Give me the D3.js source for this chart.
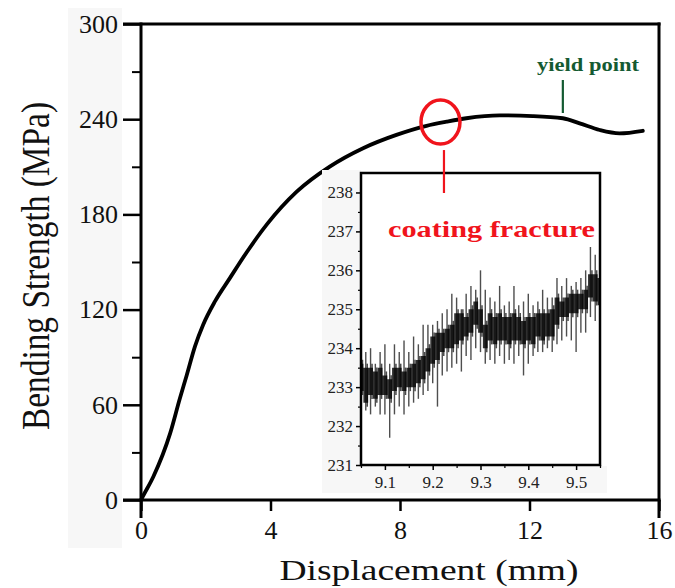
<!DOCTYPE html>
<html><head><meta charset="utf-8">
<script src="https://cdn.jsdelivr.net/npm/d3@7"></script>
<style>
html,body{margin:0;padding:0;background:#fff;}
text{font-family:"Liberation Serif","Times New Roman",serif;}
</style></head>
<body><svg id="chart" width="675" height="588"></svg>
<script>
// ---------- DATA ----------
const mainX = [0, 0.05, 0.38, 0.9, 1.2, 1.41, 1.67, 1.92, 2.28, 2.75, 3.26, 3.9, 4.81, 5.83, 6.86, 7.89, 8.82, 9.44, 10.05, 11.08, 12.1, 13.03, 13.55, 14.17, 14.78, 15.5];
const mainY = [0, 2, 14.7, 42, 64, 78.5, 97, 110.5, 125, 140, 156, 174, 194.3, 210.1, 221.7, 230.1, 235.8, 238.4, 240.6, 242.4, 242.0, 240.6, 237.4, 233.2, 231.1, 232.7];
const mainXTicks = [0, 4, 8, 12, 16];
const mainYTicks = [0, 60, 120, 180, 240, 300];
const mainYMinor = [30, 90, 150, 210, 270];

const insetX = [9.05,9.06,9.07,9.08,9.09,9.10,9.11,9.12,9.13,9.14,9.15,9.16,9.17,9.18,9.19,9.20,9.21,9.22,9.23,9.24,9.25,9.26,9.27,9.28,9.29,9.30,9.31,9.32,9.33,9.34,9.35,9.36,9.37,9.38,9.39,9.40,9.41,9.42,9.43,9.44,9.45,9.46,9.47,9.48,9.49,9.50,9.51,9.52,9.53,9.54,9.55];
const insetLo = [232.9,232.6,232.8,232.7,232.8,232.8,232.7,232.9,233.0,232.9,233.0,233.0,233.1,233.2,233.4,233.6,233.7,233.9,234.0,234.0,234.1,234.2,234.3,234.4,234.6,234.4,234.0,234.2,234.1,234.2,234.2,234.1,234.2,234.2,234.1,234.2,234.1,234.3,234.2,234.3,234.3,234.6,234.8,234.8,234.9,234.9,235.0,235.0,235.3,235.2,235.1];
const insetHi = [233.6,233.5,233.5,233.4,233.5,233.3,233.2,233.5,233.5,233.4,233.5,233.6,233.7,233.8,234.0,234.3,234.4,234.4,234.5,234.6,234.9,234.9,234.8,235.0,235.2,235.0,234.6,234.9,234.8,234.9,234.8,234.8,234.9,234.8,234.7,234.8,234.8,234.9,234.9,234.9,235.0,235.3,235.2,235.3,235.4,235.4,235.4,235.5,235.9,235.9,235.8];
const insetSpikeLo = [232.0,232.4,232.3,232.5,232.3,232.3,231.7,232.3,232.5,232.3,232.5,232.6,232.7,232.8,232.9,233.1,232.5,233.3,233.4,233.5,233.6,233.4,233.8,233.7,234.0,233.9,233.6,233.7,233.6,233.8,233.6,233.7,233.6,233.8,233.3,233.6,233.8,233.9,233.9,234.0,233.9,234.1,234.2,234.3,234.2,233.9,234.4,234.4,234.8,234.7,234.8];
const insetSpikeHi = [233.9,233.9,234.0,233.6,233.9,234.1,233.6,234.1,233.9,234.2,233.9,234.3,234.1,234.6,234.6,234.6,234.7,234.9,235.0,235.4,235.3,235.0,235.4,235.6,235.5,236.0,235.5,235.3,235.2,235.6,235.1,235.2,235.6,235.1,235.2,235.4,235.1,235.2,235.5,235.3,235.3,235.8,235.6,235.8,235.6,235.7,235.8,236.0,236.6,236.4,236.2];
const insetXTicks = [9.1, 9.2, 9.3, 9.4, 9.5];
const insetXMinor = [9.05, 9.15, 9.25, 9.35, 9.45, 9.55];
const insetYTicks = [231, 232, 233, 234, 235, 236, 237, 238];
const insetYMinor = [231.5, 232.5, 233.5, 234.5, 235.5, 236.5, 237.5];

const labels = {x: "Displacement (mm)", y: "Bending Strength (MPa)", yield: "yield point", fracture: "coating fracture"};
const fractureX = 9.25, fractureY = 238.2;
const yieldX = 13.03;

// ---------- DRAW ----------
const svg = d3.select("#chart");
const serif = '"Liberation Serif","Times New Roman",serif';

svg.append("rect").attr("x",68).attr("y",8).attr("width",54).attr("height",540).attr("fill","#f7f7f7");

const x = d3.scaleLinear().domain([0,16]).range([141,659]);
const y = d3.scaleLinear().domain([0,300]).range([500,24]);

const gy = svg.append("g").attr("transform","translate(141,0)")
  .call(d3.axisLeft(y).tickValues(mainYTicks).tickSize(18).tickPadding(5));
gy.select(".domain").remove();
gy.selectAll("line").attr("stroke","#000").attr("stroke-width",2.5);
gy.selectAll("text").attr("font-size",26).attr("font-family",serif).attr("fill","#111");
const gy2 = svg.append("g").attr("transform","translate(141,0)")
  .call(d3.axisLeft(y).tickValues(mainYMinor).tickSize(9).tickFormat(""));
gy2.select(".domain").remove();
gy2.selectAll("line").attr("stroke","#000").attr("stroke-width",2);

const gx = svg.append("g").attr("transform","translate(0,500)")
  .call(d3.axisBottom(x).tickValues(mainXTicks).tickSize(11).tickPadding(10));
gx.select(".domain").remove();
gx.selectAll("line").attr("stroke","#000").attr("stroke-width",2.5);
gx.selectAll("text").attr("font-size",26).attr("font-family",serif).attr("fill","#111");

const frame = svg.append("g").attr("stroke","#000").attr("stroke-width",3).attr("fill","none");
frame.append("line").attr("x1",x(0)).attr("x2",x(0)).attr("y1",y(300)-1.5).attr("y2",518);
frame.append("line").attr("x1",x(16)).attr("x2",x(16)).attr("y1",y(300)-1.5).attr("y2",518);
frame.append("line").attr("x1",x(0)-18).attr("x2",x(16)+1.5).attr("y1",y(300)).attr("y2",y(300));
frame.append("line").attr("x1",x(0)-18).attr("x2",x(16)+1.5).attr("y1",y(0)).attr("y2",y(0));

const mainData = mainX.map((d,i)=>[d, mainY[i]]);
const line = d3.line().x(d=>x(d[0])).y(d=>y(d[1])).curve(d3.curveMonotoneX);
svg.append("path").datum(mainData).attr("d",line).attr("fill","none")
  .attr("stroke","#000").attr("stroke-width",3.8).attr("stroke-linejoin","round").attr("stroke-linecap","round");

svg.append("text").attr("x",429).attr("y",580).attr("text-anchor","middle")
  .attr("font-size",30).attr("textLength",299).attr("lengthAdjust","spacingAndGlyphs")
  .attr("fill","#111").text(labels.x);
svg.append("text").attr("transform","translate(49,266) scale(1.2,1) rotate(-90)")
  .attr("text-anchor","middle").attr("font-size",33).attr("textLength",328).attr("lengthAdjust","spacingAndGlyphs")
  .attr("fill","#111").text(labels.y);

// ---------- INSET ----------
const xi = d3.scaleLinear().domain([9.05,9.55]).range([361,600]);
const yi = d3.scaleLinear().domain([231,238.5]).range([465,173]);

svg.append("rect").attr("x",322).attr("y",170).attr("width",39).attr("height",323).attr("fill","#f7f7f7");
svg.append("rect").attr("x",361).attr("y",466).attr("width",246).attr("height",27).attr("fill","#f7f7f7");
svg.append("rect").attr("x",361).attr("y",173).attr("width",239).attr("height",292).attr("fill","#fff");

svg.append("clipPath").attr("id","inclip").append("rect")
  .attr("x",361).attr("y",173).attr("width",239).attr("height",292);
const gin = svg.append("g").attr("clip-path","url(#inclip)");
const insetData = insetX.map((d,i)=>({x:d, lo:insetLo[i], hi:insetHi[i], slo:insetSpikeLo[i], shi:insetSpikeHi[i]}));
gin.selectAll("line.spk").data(insetData).join("line").attr("class","spk")
  .attr("x1",d=>xi(d.x)).attr("x2",d=>xi(d.x)).attr("y1",d=>yi(d.slo)).attr("y2",d=>yi(d.shi))
  .attr("stroke","#222").attr("stroke-width",1.4).attr("opacity",0.8);
const area = d3.area().x(d=>xi(d.x)).y0(d=>yi(d.lo)).y1(d=>yi(d.hi)).curve(d3.curveStep);
gin.append("path").datum(insetData).attr("d",area).attr("fill","#0a0a0a").attr("opacity",0.85);
gin.selectAll("line.bar").data(insetData).join("line").attr("class","bar")
  .attr("x1",d=>xi(d.x)+1.5).attr("x2",d=>xi(d.x)+1.5).attr("y1",d=>yi(d.lo)+4).attr("y2",d=>yi(d.hi)-4)
  .attr("stroke","#000").attr("stroke-width",1.5).attr("opacity",0.7);

const iy = svg.append("g").attr("transform","translate(361,0)")
  .call(d3.axisLeft(yi).tickValues(insetYTicks).tickSize(5).tickPadding(3));
iy.select(".domain").remove();
iy.selectAll("line").attr("stroke","#000").attr("stroke-width",1.5);
iy.selectAll("text").attr("font-size",17).attr("font-family",serif).attr("fill","#222");
const iy2 = svg.append("g").attr("transform","translate(361,0)")
  .call(d3.axisLeft(yi).tickValues(insetYMinor).tickSize(3).tickFormat(""));
iy2.select(".domain").remove();
iy2.selectAll("line").attr("stroke","#000").attr("stroke-width",1.2);
const ix = svg.append("g").attr("transform","translate(0,465)")
  .call(d3.axisBottom(xi).tickValues(insetXTicks).tickSize(5).tickPadding(6).tickFormat(d3.format(".1f")));
ix.select(".domain").remove();
ix.selectAll("line").attr("stroke","#000").attr("stroke-width",1.5);
ix.selectAll("text").attr("font-size",17).attr("font-family",serif).attr("fill","#222");
const ix2 = svg.append("g").attr("transform","translate(0,465)")
  .call(d3.axisBottom(xi).tickValues(insetXMinor).tickSize(3).tickFormat(""));
ix2.select(".domain").remove();
ix2.selectAll("line").attr("stroke","#000").attr("stroke-width",1.2);

svg.append("rect").attr("x",361).attr("y",173).attr("width",239).attr("height",292)
  .attr("fill","none").attr("stroke","#000").attr("stroke-width",2.5);

// ---------- ANNOTATIONS ----------
const red = "#f0141c", green = "#145a32";
svg.append("ellipse").attr("cx",x(fractureX)).attr("cy",y(fractureY)).attr("rx",19.5).attr("ry",22)
  .attr("fill","none").attr("stroke",red).attr("stroke-width",3.5);
svg.append("line").attr("x1",x(fractureX)+3.5).attr("x2",x(fractureX)+3.5).attr("y1",y(fractureY)+28).attr("y2",193)
  .attr("stroke",red).attr("stroke-width",2.2);
svg.append("text").attr("x",388).attr("y",237).attr("font-size",23).attr("font-weight","bold")
  .attr("textLength",207).attr("lengthAdjust","spacingAndGlyphs").attr("fill",red).text(labels.fracture);

svg.append("line").attr("x1",x(yieldX)).attr("x2",x(yieldX)).attr("y1",80).attr("y2",113)
  .attr("stroke",green).attr("stroke-width",2.2);
svg.append("text").attr("x",537).attr("y",71).attr("font-size",18).attr("font-weight","bold")
  .attr("textLength",102).attr("lengthAdjust","spacingAndGlyphs").attr("fill",green).text(labels.yield);
</script></body></html>
